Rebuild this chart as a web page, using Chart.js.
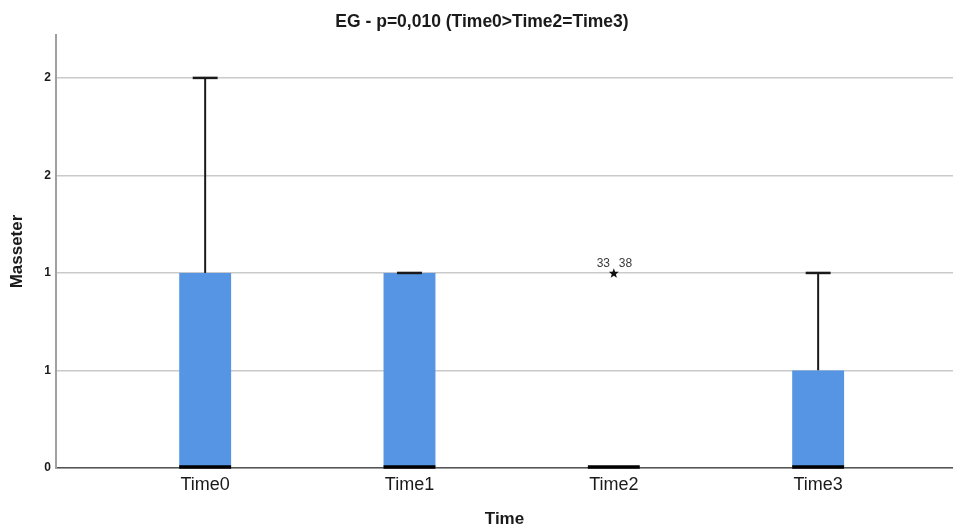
<!DOCTYPE html>
<html>
<head>
<meta charset="utf-8">
<script src="https://cdn.jsdelivr.net/npm/chart.js@4/dist/chart.umd.min.js"></script>
<style>
  html, body { margin: 0; padding: 0; background: #fff; }
  #wrap { width: 953px; height: 527px; }
</style>
</head>
<body>
<div id="wrap"><canvas id="c"></canvas></div>
<script>
// ---- data ----
const chartTitle = 'EG - p=0,010 (Time0>Time2=Time3)';
const categories = ['Time0', 'Time1', 'Time2', 'Time3'];
const whiskerMin = [0, 0, 0, 0];
const q1 = [0, 0, 0, 0];
const medians = [0, 0, 0, 0];
const q3 = [1, 1, 0, 0.5];
const whiskerMax = [2, 1, 0, 1];
const outlierCategory = [2];
const outlierValue = [1];
const outlierIds = [['33', '38']];
const yTickValues = [0, 0.5, 1, 1.5, 2];
const yTickLabels = ['0', '1', '1', '2', '2'];

const FONT = "Arial, 'Liberation Sans', sans-serif";

const boxPlugin = {
  id: 'boxPlugin',
  afterDatasetsDraw(chart) {
    const ctx = chart.ctx;
    const xs = chart.scales.x, ys = chart.scales.y;
    const halfBox = 0.127, halfCap = 0.061;
    ctx.save();
    categories.forEach((cat, i) => {
      const xl = xs.getPixelForValue(i - halfBox);
      const xr = xs.getPixelForValue(i + halfBox);
      const xc = xs.getPixelForValue(i);
      const cl = xs.getPixelForValue(i - halfCap);
      const cr = xs.getPixelForValue(i + halfCap);
      const yq1 = ys.getPixelForValue(q1[i]);
      const yq3 = ys.getPixelForValue(q3[i]);
      const yMax = ys.getPixelForValue(whiskerMax[i]);
      const yMin = ys.getPixelForValue(whiskerMin[i]);
      // whiskers
      if (whiskerMax[i] > q3[i]) {
        ctx.strokeStyle = '#1a1a1a';
        ctx.lineWidth = 2;
        ctx.beginPath();
        ctx.moveTo(xc, yq3); ctx.lineTo(xc, yMax);
        ctx.stroke();
      }
      if (whiskerMin[i] < q1[i]) {
        ctx.strokeStyle = '#1a1a1a';
        ctx.lineWidth = 2;
        ctx.beginPath();
        ctx.moveTo(xc, yq1); ctx.lineTo(xc, yMin);
        ctx.stroke();
      }
      // box
      if (q3[i] > q1[i]) {
        ctx.fillStyle = '#5595e4';
        ctx.fillRect(xl, yq3, xr - xl, yq1 - yq3);
      }
      // caps
      ctx.strokeStyle = '#1a1a1a';
      ctx.lineWidth = 2.5;
      if (whiskerMax[i] > q1[i]) {
        ctx.beginPath();
        ctx.moveTo(cl, yMax); ctx.lineTo(cr, yMax);
        ctx.stroke();
      }
      // median
      ctx.strokeStyle = '#000';
      ctx.lineWidth = 3.5;
      const ym = ys.getPixelForValue(medians[i]);
      ctx.beginPath();
      ctx.moveTo(xl, ym - 1); ctx.lineTo(xr, ym - 1);
      ctx.stroke();
    });
    // extreme values (star) with case labels
    outlierCategory.forEach((c, k) => {
      const px = xs.getPixelForValue(c);
      const py = ys.getPixelForValue(outlierValue[k]);
      ctx.fillStyle = '#111';
      ctx.beginPath();
      const R = 5.2, r = 2.2;
      for (let j = 0; j < 10; j++) {
        const ang = -Math.PI / 2 + j * Math.PI / 5;
        const rad = j % 2 === 0 ? R : r;
        const x = px + rad * Math.cos(ang), y = py + 0.5 + rad * Math.sin(ang);
        if (j === 0) ctx.moveTo(x, y); else ctx.lineTo(x, y);
      }
      ctx.closePath();
      ctx.fill();
      ctx.fillStyle = '#3a3a3a';
      ctx.font = '12px ' + FONT;
      ctx.textAlign = 'center';
      ctx.textBaseline = 'alphabetic';
      const ids = outlierIds[k];
      ctx.fillText(ids[0], px - 10.5, py - 6);
      ctx.fillText(ids[1], px + 11.7, py - 6);
    });
    // chart title
    ctx.fillStyle = '#1a1a1a';
    ctx.font = 'bold 17.5px ' + FONT;
    ctx.textAlign = 'center';
    ctx.textBaseline = 'middle';
    ctx.fillText(chartTitle, 482, 22);
    ctx.restore();
  }
};

new Chart(document.getElementById('c'), {
  type: 'scatter',
  data: { datasets: [{ data: [], pointRadius: 0 }] },
  plugins: [boxPlugin],
  options: {
    responsive: true,
    maintainAspectRatio: false,
    animation: false,
    events: [],
    layout: { padding: { top: 35, left: 0, right: 0, bottom: 0 } },
    plugins: { legend: { display: false }, tooltip: { enabled: false }, title: { display: false } },
    scales: {
      x: {
        type: 'linear',
        min: -0.73,
        max: 3.66,
        afterBuildTicks: s => { s.ticks = categories.map((c, i) => ({ value: i })); },
        afterFit: s => { s.height = 59; },
        ticks: {
          autoSkip: false,
          maxRotation: 0,
          padding: 6,
          color: '#1a1a1a',
          font: { family: FONT, size: 18 },
          callback: v => categories[v]
        },
        grid: { display: false, drawTicks: false, tickLength: 0 },
        border: { display: true, color: '#555', width: 1.5 },
        title: {
          display: true, text: 'Time', color: '#1a1a1a',
          font: { family: FONT, size: 17, weight: 'bold', lineHeight: 0.9 },
          padding: { top: 0, bottom: 0 }
        }
      },
      y: {
        min: 0,
        max: 2.22,
        afterBuildTicks: s => { s.ticks = yTickValues.map(v => ({ value: v })); },
        afterFit: s => { s.width = 56; },
        ticks: {
          autoSkip: false,
          padding: 5,
          color: '#1a1a1a',
          font: { family: FONT, size: 12, weight: 'bold' },
          callback: (v, idx) => yTickLabels[idx]
        },
        grid: { display: true, color: '#cacaca', lineWidth: 1.5, drawTicks: false, tickLength: 0 },
        border: { display: true, color: '#a0a0a0', width: 2 },
        title: {
          display: true, text: 'Masseter', color: '#1a1a1a',
          font: { family: FONT, size: 17, weight: 'bold', lineHeight: 1.2 },
          padding: { top: 7, bottom: 0 }
        }
      }
    }
  }
});
</script>
</body>
</html>
